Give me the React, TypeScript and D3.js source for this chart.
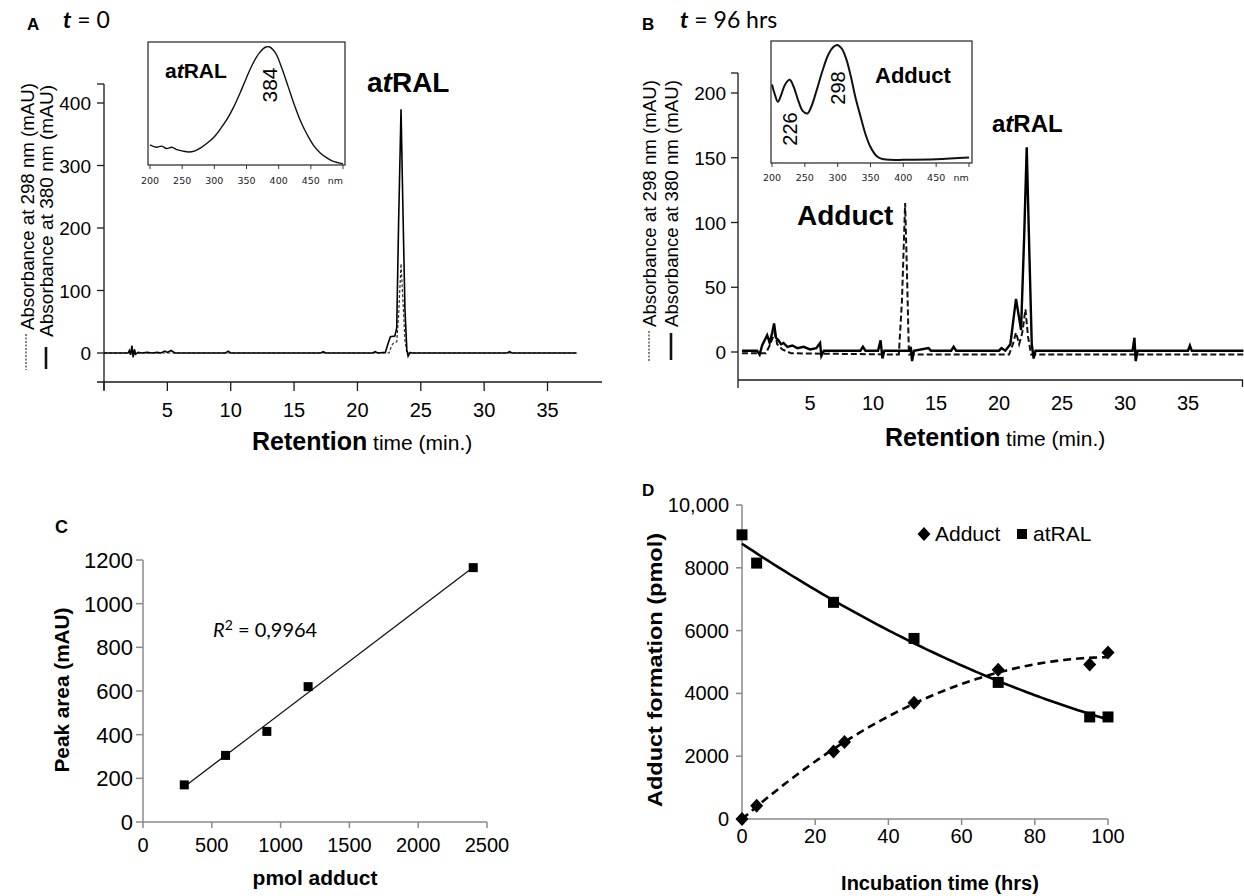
import React from 'react';
import * as d3 from 'd3';

type Pt = [number, number];

const SANS = '"Liberation Sans", Arial, Helvetica, sans-serif';
const CAL = 'Lato, "Open Sans", sans-serif';
const VERD = '"DejaVu Sans", Verdana, sans-serif';

// ---- panel A: chromatogram at t = 0 (minutes, mAU) ----
const chromA380: Pt[] = [
  [0, 0], [1.9, 0], [2.0, 4], [2.1, -3], [2.2, 12], [2.3, -7], [2.4, 6], [2.5, -2], [2.7, 1], [3.0, 0],
  [3.4, 1], [3.8, 0], [4.2, 1], [4.5, 0], [4.8, 3], [5.0, 1], [5.3, 4], [5.6, 0], [9.6, 0], [9.8, 3],
  [10.0, 0], [17.1, 0], [17.3, 2], [17.5, 0], [21.2, 0], [21.4, 2], [21.6, 0], [22.2, 1], [22.4, 14],
  [22.6, 26], [22.95, 27], [23.1, 40], [23.25, 210], [23.44, 390], [23.6, 220], [23.75, 70], [23.9, 5],
  [24.0, -5], [24.15, 1], [24.3, 0], [31.8, 0], [32.0, 2], [32.2, 0], [37.3, 0],
];
const chromA298: Pt[] = [
  [0, 0], [2.1, 0], [2.2, 5], [2.3, -3], [2.5, 0], [22.5, 0], [22.7, 12], [22.85, 16], [23.1, 18],
  [23.25, 60], [23.44, 143], [23.6, 80], [23.75, 20], [23.9, 0], [37.3, 0],
];
// inset A: atRAL UV spectrum (nm, relative absorbance)
const spectrumAtral: Pt[] = [
  [200, 0.17], [210, 0.15], [218, 0.16], [226, 0.14], [234, 0.15], [242, 0.13], [250, 0.12], [260, 0.11],
  [270, 0.12], [280, 0.15], [290, 0.19], [300, 0.24], [310, 0.31], [320, 0.39], [330, 0.49], [340, 0.61],
  [350, 0.74], [360, 0.86], [370, 0.95], [380, 1.0], [386, 1.0], [395, 0.95], [405, 0.82], [415, 0.66],
  [425, 0.5], [435, 0.36], [445, 0.25], [455, 0.16], [465, 0.1], [475, 0.06], [485, 0.03], [500, 0.01],
];

// ---- panel B: chromatogram at t = 96 hrs ----
const chromB380: Pt[] = [
  [-0.4, 1], [0.8, 1], [1.0, -2], [1.2, 5], [1.4, 9], [1.6, 13], [1.8, 7], [2.0, 15], [2.15, 22], [2.3, 11],
  [2.5, 9], [2.7, 6], [2.9, 7], [3.2, 4], [3.6, 5], [4.0, 3], [4.5, 4], [5.0, 2], [5.5, 3], [5.8, 7],
  [5.9, -3], [6.1, 1], [9.0, 1], [9.2, 4], [9.4, 1], [10.4, 1], [10.6, 9], [10.75, -5], [10.9, 1],
  [12.9, 1], [13.0, 4], [13.1, -7], [13.25, 1], [14.4, 3], [14.6, 1], [16.2, 1], [16.4, 4], [16.6, 1],
  [20.0, 1], [20.2, 3], [20.5, 1], [20.9, 6], [21.35, 41], [21.75, 17], [22.0, 90], [22.2, 158],
  [22.4, 80], [22.6, 6], [22.75, -5], [22.9, 1], [30.6, 1], [30.75, 11], [30.85, -7], [31.0, 1],
  [35.0, 1], [35.15, 5], [35.3, 1], [39.4, 1],
];
const chromB298: Pt[] = [
  [-0.4, -1], [1.5, -1], [1.8, 5], [2.0, 10], [2.2, 15], [2.4, 6], [2.8, 2], [3.5, -1], [12.05, -2],
  [12.3, 40], [12.55, 115], [12.7, 60], [12.85, -2], [20.8, -2], [21.1, 6], [21.35, 15], [21.6, 6],
  [21.85, 15], [22.1, 33], [22.3, 12], [22.55, -2], [39.4, -2],
];
// inset B: adduct UV spectrum
const spectrumAdduct: Pt[] = [
  [200, 0.66], [204, 0.58], [209, 0.51], [214, 0.57], [220, 0.66], [227, 0.7], [233, 0.64], [240, 0.52],
  [247, 0.43], [254, 0.41], [260, 0.47], [268, 0.61], [277, 0.78], [286, 0.92], [293, 0.98], [299, 1.0],
  [306, 0.97], [313, 0.88], [320, 0.73], [327, 0.55], [335, 0.38], [343, 0.22], [350, 0.12], [358, 0.05],
  [366, 0.02], [380, 0.01], [400, 0.01], [450, 0.015], [500, 0.03],
];

// ---- panel C: calibration ----
const calibPmol = [300, 600, 900, 1200, 2400];
const calibArea = [170, 305, 415, 620, 1165];

// ---- panel D: time course ----
const adductHrs = [0, 4, 25, 28, 47, 70, 95, 100];
const adductPmol = [0, 420, 2150, 2450, 3700, 4750, 4920, 5300];
const atralHrs = [0, 4, 25, 47, 70, 95, 100];
const atralPmol = [9050, 8150, 6900, 5750, 4350, 3250, 3250];

const chromTicks = [0, 5, 10, 15, 20, 25, 30, 35];
const chromTickLabels = [5, 10, 15, 20, 25, 30, 35];
const nmTicks = [200, 250, 300, 350, 400, 450, 500];
const nmTickLabels = [200, 250, 300, 350, 400, 450];
const yTicksA = [0, 100, 200, 300, 400];
const yTicksB = [0, 50, 100, 150, 200];
const xTicksC = [0, 500, 1000, 1500, 2000, 2500];
const yTicksC = [0, 200, 400, 600, 800, 1000, 1200];
const xTicksD = [0, 20, 40, 60, 80, 100];
const yTicksD = [0, 2000, 4000, 6000, 8000, 10000];

function linFit(xs: number[], ys: number[]) {
  const mx = d3.mean(xs)!, my = d3.mean(ys)!;
  let sxy = 0, sxx = 0;
  xs.forEach((x, i) => { sxy += (x - mx) * (ys[i] - my); sxx += (x - mx) * (x - mx); });
  const b = sxy / sxx;
  return (x: number) => my + b * (x - mx);
}

function quadFit(xs: number[], ys: number[]) {
  const s = [0, 0, 0, 0, 0], t = [0, 0, 0];
  xs.forEach((x, i) => {
    for (let k = 0; k < 5; k++) s[k] += Math.pow(x, k);
    for (let k = 0; k < 3; k++) t[k] += Math.pow(x, k) * ys[i];
  });
  const m = [
    [s[0], s[1], s[2], t[0]],
    [s[1], s[2], s[3], t[1]],
    [s[2], s[3], s[4], t[2]],
  ];
  for (let c = 0; c < 3; c++) {
    for (let r = c + 1; r < 3; r++) {
      const f = m[r][c] / m[c][c];
      for (let k = c; k < 4; k++) m[r][k] -= f * m[c][k];
    }
  }
  const co = [0, 0, 0];
  for (let r = 2; r >= 0; r--) {
    let v = m[r][3];
    for (let k = r + 1; k < 3; k++) v -= m[r][k] * co[k];
    co[r] = v / m[r][r];
  }
  return (x: number) => co[0] + co[1] * x + co[2] * x * x;
}

const VText = ({ x, y, size, weight = 'normal', anchor = 'middle', len, family = SANS, children }: any) => (
  <text
    transform={`translate(${x},${y}) rotate(-90)`}
    fontSize={size}
    fontWeight={weight}
    textAnchor={anchor}
    fontFamily={family}
    textLength={len}
    lengthAdjust={len ? 'spacingAndGlyphs' : undefined}
  >
    {children}
  </text>
);

const AtRal = () => (
  <>
    <tspan>a</tspan>
    <tspan fontStyle="italic">t</tspan>
    <tspan>RAL</tspan>
  </>
);

export default function App() {
  // panel A
  const xA = d3.scaleLinear().domain([0, 39.3]).range([104, 602]);
  const yA = d3.scaleLinear().domain([0, 400]).range([353, 103]);
  const lineA = d3.line<Pt>().x(d => xA(d[0])).y(d => yA(d[1]));
  const nmA = d3.scaleLinear().domain([200, 500]).range([150, 343]);
  const absA = d3.scaleLinear().domain([0, 1]).range([165, 47]);
  const specA = d3.line<Pt>().x(d => nmA(d[0])).y(d => absA(d[1])).curve(d3.curveCatmullRom);

  // panel B
  const xB = d3.scaleLinear().domain([0, 39.4]).range([747, 747 + 39.4 * 12.6]);
  const yB = d3.scaleLinear().domain([0, 200]).range([352, 93]);
  const lineB = d3.line<Pt>().x(d => xB(d[0])).y(d => yB(d[1]));
  const nmB = d3.scaleLinear().domain([200, 500]).range([772, 969]);
  const absB = d3.scaleLinear().domain([0, 1]).range([161, 45]);
  const specB = d3.line<Pt>().x(d => nmB(d[0])).y(d => absB(d[1])).curve(d3.curveCatmullRom);

  // panel C
  const xC = d3.scaleLinear().domain([0, 2500]).range([143, 487]);
  const yC = d3.scaleLinear().domain([0, 1200]).range([822, 560]);
  const fitC = linFit(calibPmol, calibArea);
  const cMin = d3.min(calibPmol)!, cMax = d3.max(calibPmol)!;

  // panel D
  const xD = d3.scaleLinear().domain([0, 100]).range([742, 1108]);
  const yD = d3.scaleLinear().domain([0, 10000]).range([819, 505]);
  const fitAdduct = quadFit(adductHrs, adductPmol);
  const fitAtral = quadFit(atralHrs, atralPmol);
  const hrs = d3.range(0, 100.5, 1);
  const lineD = d3.line<number>().x(h => xD(h));
  const diamond = 'M0,-7L6.5,0L0,7L-6.5,0Z';

  const axisDark = '#1a1a1a';
  const axisGray = '#8a8a8a';

  return (
    <svg width={1244} height={896} style={{ position: 'absolute', left: 0, top: 0, background: '#fff' }}>
      {/* ================= Panel A ================= */}
      <text x={27} y={30} fontFamily={SANS} fontWeight="bold" fontSize={17}>A</text>
      <text x={63} y={28} fontFamily={CAL} fontSize={23}>
        <tspan fontStyle="italic" fontWeight="bold">t</tspan> = 0
      </text>
      {/* y axis */}
      <line x1={104} x2={104} y1={84} y2={390} stroke={axisDark} strokeWidth={1.3} />
      <line x1={97} x2={104} y1={84} y2={84} stroke={axisDark} strokeWidth={1.3} />
      {yTicksA.map(v => (
        <g key={v}>
          <line x1={97} x2={104} y1={yA(v)} y2={yA(v)} stroke={axisDark} strokeWidth={1.3} />
          <text x={91} y={yA(v) + 7} textAnchor="end" fontFamily={SANS} fontSize={19}>{v}</text>
        </g>
      ))}
      {/* x axis */}
      <line x1={97} x2={602} y1={382} y2={382} stroke={axisDark} strokeWidth={1.3} />
      {chromTicks.map(t => (
        <line key={t} x1={xA(t)} x2={xA(t)} y1={382} y2={391} stroke={axisDark} strokeWidth={1.3} />
      ))}
      {chromTickLabels.map(t => (
        <text key={t} x={xA(t)} y={417} textAnchor="middle" fontFamily={SANS} fontSize={20}>{t}</text>
      ))}
      <text x={252} y={450} fontFamily={SANS}>
        <tspan fontWeight="bold" fontSize={25}>Retention</tspan>
        <tspan fontSize={21}> time (min.)</tspan>
      </text>
      {/* y labels with line keys */}
      <line x1={26} x2={26} y1={334} y2={370} stroke="#333" strokeWidth={1.2} strokeDasharray="2,1.5" />
      <VText x={34} y={330} size={18.5} anchor="start" len={247}>Absorbance at 298 nm (mAU)</VText>
      <line x1={46} x2={46} y1={347} y2={369} stroke="#111" strokeWidth={2.6} />
      <VText x={53} y={337} size={18.5} anchor="start" len={252}>Absorbance at 380 nm (mAU)</VText>
      {/* traces */}
      <path d={lineA(chromA298)!} fill="none" stroke="#333" strokeWidth={1.2} strokeDasharray="3,2" />
      <path d={lineA(chromA380)!} fill="none" stroke="#000" strokeWidth={1.6} />
      <text x={367} y={92} fontFamily={SANS} fontWeight="bold" fontSize={28}><AtRal /></text>
      {/* inset A */}
      <rect x={148} y={42} width={197} height={123} fill="#fff" stroke="#333" strokeWidth={1.3} />
      {nmTicks.map(n => (
        <line key={n} x1={nmA(n)} x2={nmA(n)} y1={165} y2={169} stroke="#333" strokeWidth={1} />
      ))}
      {nmTickLabels.map(n => (
        <text key={n} x={nmA(n)} y={184} textAnchor="middle" fontFamily={VERD} fontSize={9.5} fill="#222">{n}</text>
      ))}
      <text x={nmA(488)} y={184} textAnchor="middle" fontFamily={VERD} fontSize={9.5} fill="#222">nm</text>
      <path d={specA(spectrumAtral)!} fill="none" stroke="#111" strokeWidth={1.4} />
      <text x={165} y={78} fontFamily={SANS} fontWeight="bold" fontSize={21}><AtRal /></text>
      <VText x={277} y={85} size={21}>384</VText>

      {/* ================= Panel B ================= */}
      <text x={642} y={30} fontFamily={SANS} fontWeight="bold" fontSize={17}>B</text>
      <text x={680} y={28} fontFamily={CAL} fontSize={23}>
        <tspan fontStyle="italic" fontWeight="bold">t</tspan> = 96 hrs
      </text>
      <line x1={738} x2={738} y1={73} y2={388} stroke={axisDark} strokeWidth={1.3} />
      <line x1={731} x2={738} y1={73} y2={73} stroke={axisDark} strokeWidth={1.3} />
      {yTicksB.map(v => (
        <g key={v}>
          <line x1={731} x2={738} y1={yB(v)} y2={yB(v)} stroke={axisDark} strokeWidth={1.3} />
          <text x={726} y={yB(v) + 7} textAnchor="end" fontFamily={SANS} fontSize={19}>{v}</text>
        </g>
      ))}
      <line x1={738} x2={1243} y1={380} y2={380} stroke={axisDark} strokeWidth={1.3} />
      <line x1={1242.5} x2={1242.5} y1={380} y2={387} stroke={axisDark} strokeWidth={1.3} />
      {chromTickLabels.map(t => (
        <text key={t} x={xB(t)} y={410} textAnchor="middle" fontFamily={SANS} fontSize={20}>{t}</text>
      ))}
      <text x={885} y={446} fontFamily={SANS}>
        <tspan fontWeight="bold" fontSize={25}>Retention</tspan>
        <tspan fontSize={21}> time (min.)</tspan>
      </text>
      <line x1={649} x2={649} y1={331} y2={362} stroke="#333" strokeWidth={1.2} strokeDasharray="2,1.5" />
      <VText x={656} y={327} size={18.5} anchor="start" len={247}>Absorbance at 298 nm (mAU)</VText>
      <line x1={671} x2={671} y1={333} y2={360} stroke="#111" strokeWidth={2.6} />
      <VText x={678} y={327} size={18.5} anchor="start" len={247}>Absorbance at 380 nm (mAU)</VText>
      <path d={lineB(chromB298)!} fill="none" stroke="#111" strokeWidth={2} strokeDasharray="6,3" />
      <path d={lineB(chromB380)!} fill="none" stroke="#000" strokeWidth={2.4} />
      <text x={797} y={225} fontFamily={SANS} fontWeight="bold" fontSize={28}>Adduct</text>
      <text x={992} y={132} fontFamily={SANS} fontWeight="bold" fontSize={24}><AtRal /></text>
      {/* inset B */}
      <rect x={771} y={41} width={201} height={122} fill="#fff" stroke="#333" strokeWidth={1.3} />
      {nmTicks.map(n => (
        <line key={n} x1={nmB(n)} x2={nmB(n)} y1={163} y2={167} stroke="#333" strokeWidth={1} />
      ))}
      {nmTickLabels.map(n => (
        <text key={n} x={nmB(n)} y={181} textAnchor="middle" fontFamily={VERD} fontSize={9.5} fill="#222">{n}</text>
      ))}
      <text x={nmB(488)} y={181} textAnchor="middle" fontFamily={VERD} fontSize={9.5} fill="#222">nm</text>
      <path d={specB(spectrumAdduct)!} fill="none" stroke="#111" strokeWidth={2} />
      <text x={875} y={83} fontFamily={SANS} fontWeight="bold" fontSize={22}>Adduct</text>
      <VText x={845} y={88} size={20}>298</VText>
      <VText x={797} y={129} size={20}>226</VText>

      {/* ================= Panel C ================= */}
      <text x={55} y={533} fontFamily={SANS} fontWeight="bold" fontSize={18}>C</text>
      <line x1={143} x2={143} y1={560} y2={822} stroke={axisGray} strokeWidth={1.5} />
      <line x1={143} x2={487} y1={822} y2={822} stroke={axisGray} strokeWidth={1.5} />
      {yTicksC.map(v => (
        <g key={v}>
          <line x1={136} x2={143} y1={yC(v)} y2={yC(v)} stroke={axisGray} strokeWidth={1.5} />
          <text x={133} y={yC(v) + 8} textAnchor="end" fontFamily={SANS} fontSize={22}>{v}</text>
        </g>
      ))}
      {xTicksC.map(v => (
        <g key={v}>
          <line x1={xC(v)} x2={xC(v)} y1={822} y2={828} stroke={axisGray} strokeWidth={1.5} />
          <text x={xC(v)} y={852} textAnchor="middle" fontFamily={SANS} fontSize={20}>{v}</text>
        </g>
      ))}
      <VText x={69} y={690} size={20} weight="bold" len={165}>Peak area (mAU)</VText>
      <text x={315} y={885} textAnchor="middle" fontFamily={SANS} fontWeight="bold" fontSize={21}>pmol adduct</text>
      <line x1={xC(cMin)} y1={yC(fitC(cMin))} x2={xC(cMax)} y2={yC(fitC(cMax))} stroke="#111" strokeWidth={1.3} />
      {calibPmol.map((p, i) => (
        <rect key={p} x={xC(p) - 4.5} y={yC(calibArea[i]) - 4.5} width={9} height={9} fill="#000" />
      ))}
      <text x={213} y={637} fontFamily={CAL} fontSize={20}>
        <tspan fontStyle="italic">R</tspan>
        <tspan fontSize={14} dy={-7}>2</tspan>
        <tspan dy={7}> = 0,9964</tspan>
      </text>

      {/* ================= Panel D ================= */}
      <text x={642} y={496} fontFamily={SANS} fontWeight="bold" fontSize={17}>D</text>
      <line x1={742} x2={742} y1={505} y2={819} stroke={axisGray} strokeWidth={1.5} />
      <line x1={742} x2={1108} y1={819} y2={819} stroke={axisGray} strokeWidth={1.5} />
      {yTicksD.map(v => (
        <g key={v}>
          <line x1={736} x2={742} y1={yD(v)} y2={yD(v)} stroke={axisGray} strokeWidth={1.5} />
          <text x={729} y={yD(v) + 7} textAnchor="end" fontFamily={SANS} fontSize={20}>
            {v === 10000 ? '10,000' : v}
          </text>
        </g>
      ))}
      {xTicksD.map(v => (
        <g key={v}>
          <line x1={xD(v)} x2={xD(v)} y1={819} y2={825} stroke={axisGray} strokeWidth={1.5} />
          <text x={xD(v)} y={843} textAnchor="middle" fontFamily={SANS} fontSize={20}>{v}</text>
        </g>
      ))}
      <VText x={662} y={670} size={21} weight="bold" len={274}>Adduct formation (pmol)</VText>
      <text x={940} y={890} textAnchor="middle" fontFamily={SANS} fontWeight="bold" fontSize={20}>Incubation time (hrs)</text>
      <path d={lineD.y(h => yD(fitAtral(h)))(hrs)!} fill="none" stroke="#000" strokeWidth={2.6} />
      <path d={lineD.y(h => yD(fitAdduct(h)))(hrs)!} fill="none" stroke="#000" strokeWidth={2.6} strokeDasharray="8,5" />
      {adductHrs.map((h, i) => (
        <path key={'a' + i} d={diamond} transform={`translate(${xD(h)},${yD(adductPmol[i])})`} fill="#000" />
      ))}
      {atralHrs.map((h, i) => (
        <rect key={'r' + i} x={xD(h) - 5.5} y={yD(atralPmol[i]) - 5.5} width={11} height={11} fill="#000" />
      ))}
      {/* legend */}
      <path d={diamond} transform="translate(924,534)" fill="#000" />
      <text x={935} y={541} fontFamily={SANS} fontSize={21}>Adduct</text>
      <rect x={1017} y={529} width={10} height={10} fill="#000" />
      <text x={1033} y={541} fontFamily={SANS} fontSize={21}>atRAL</text>
    </svg>
  );
}
